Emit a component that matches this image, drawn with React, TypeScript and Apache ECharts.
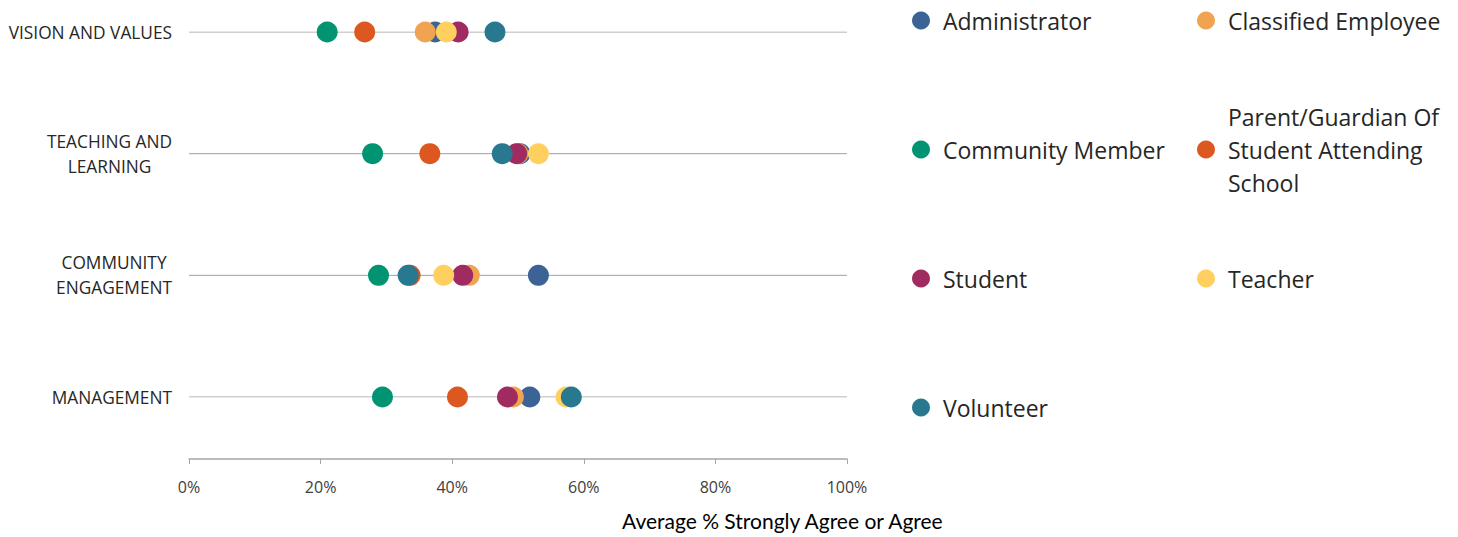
import React, { useEffect, useRef } from "react";
import * as echarts from "echarts";

// categories bottom-to-top (category axis index 0 at bottom)
const categories = ["MANAGEMENT", "COMMUNITY ENGAGEMENT", "TEACHING AND LEARNING", "VISION AND VALUES"];
const categoryLabels = ["MANAGEMENT", "COMMUNITY\nENGAGEMENT", "TEACHING AND\nLEARNING", "VISION AND VALUES"];

const seriesNames = [
  "Administrator",
  "Classified Employee",
  "Community Member",
  "Parent/Guardian Of Student Attending School",
  "Student",
  "Teacher",
  "Volunteer",
];
const seriesColors = ["#3B6396", "#F0A350", "#009473", "#DC5820", "#A02B60", "#FFD05F", "#287890"];

// values per category, order: Management, Community Engagement, Teaching and Learning, Vision and Values
const administrator = [51.8, 53.1, 50.3, 37.4];
const classifiedEmployee = [49.3, 42.6, 50.0, 35.9];
const communityMember = [29.4, 28.8, 27.9, 21.0];
const parentGuardian = [40.8, 33.6, 36.6, 26.7];
const student = [48.4, 41.6, 49.8, 40.9];
const teacher = [57.3, 38.7, 53.1, 39.1];
const volunteer = [58.1, 33.3, 47.6, 46.5];
const seriesValues = [administrator, classifiedEmployee, communityMember, parentGuardian, student, teacher, volunteer];

const xTicks = [0, 20, 40, 60, 80, 100];

// legend layout: [left, top] of each legend entry
const legendPos: [number, number][] = [
  [907, -1],
  [1192, -1],
  [907, 128],
  [1192, 95],
  [907, 257],
  [1192, 257],
  [907, 386],
];

export default function App() {
  const ref = useRef<HTMLDivElement>(null);
  useEffect(() => {
    if (!ref.current) return;
    const chart = echarts.init(ref.current, undefined, { renderer: "svg" });
    const gridLineSeries = categories.map((c) => ({
      type: "line",
      name: "_grid_" + c,
      data: [
        [xTicks[0], c],
        [xTicks[xTicks.length - 1], c],
      ],
      symbol: "none",
      silent: true,
      z: 1,
      lineStyle: { color: "#a0a0a0", width: 1 },
    }));
    const scatterSeries = seriesNames.map((n, i) => ({
      type: "scatter",
      name: n,
      data: seriesValues[i].map((v, j) => [v, categories[j]]),
      symbol: "circle",
      symbolSize: 21,
      z: 2,
      itemStyle: { color: seriesColors[i], opacity: 1 },
    }));
    const legends = seriesNames.map((n, i) => ({
      data: [n],
      left: legendPos[i][0],
      top: legendPos[i][1],
      icon: "circle",
      itemWidth: 18,
      itemHeight: 18,
      selectedMode: false,
      formatter: (name: string) =>
        name === "Parent/Guardian Of Student Attending School"
          ? "Parent/Guardian Of\nStudent Attending\nSchool"
          : name,
      textStyle: {
        fontFamily: "Open Sans",
        fontSize: 23,
        color: "#262626",
        lineHeight: 33,
        padding: [0, 0, 0, 8],
      },
    }));
    chart.setOption({
      animation: false,
      backgroundColor: "#ffffff",
      grid: { left: 189, right: 611, top: 32, bottom: 140 },
      legend: legends,
      xAxis: {
        type: "value",
        min: 0,
        max: 100,
        interval: 20,
        offset: 62,
        axisLine: { show: true, lineStyle: { color: "#a6a6a6", width: 1.5 } },
        axisTick: { show: true, length: 5, lineStyle: { color: "#a6a6a6" } },
        splitLine: { show: false },
        axisLabel: {
          formatter: "{value}%",
          fontFamily: "Open Sans",
          fontSize: 16,
          color: "#404040",
          margin: 20,
        },
      },
      yAxis: {
        type: "category",
        data: categories,
        boundaryGap: false,
        axisLine: { show: false },
        axisTick: { show: false },
        splitLine: { show: false },
        axisLabel: {
          margin: 17,
          align: "right",
          formatter: (v: string) => {
            const idx = categories.indexOf(v);
            return categoryLabels[idx]
              .split("\n")
              .map((l) => `{c|${l}}`)
              .join("\n");
          },
          rich: {
            c: {
              align: "center",
              fontFamily: "Open Sans",
              fontSize: 17.3,
              color: "#262626",
              lineHeight: 25,
            },
          },
        },
      },
      graphic: [
        {
          type: "text",
          left: 622,
          top: 510,
          style: {
            text: "Average % Strongly Agree or Agree",
            fontFamily: "Lato",
            fontSize: 21,
            fill: "#000000",
          },
        },
      ],
      series: [...gridLineSeries, ...scatterSeries],
    });
    return () => chart.dispose();
  }, []);
  return (
    <div
      ref={ref}
      style={{ position: "fixed", left: 0, top: 0, width: 1458, height: 537, background: "#fff" }}
    />
  );
}
